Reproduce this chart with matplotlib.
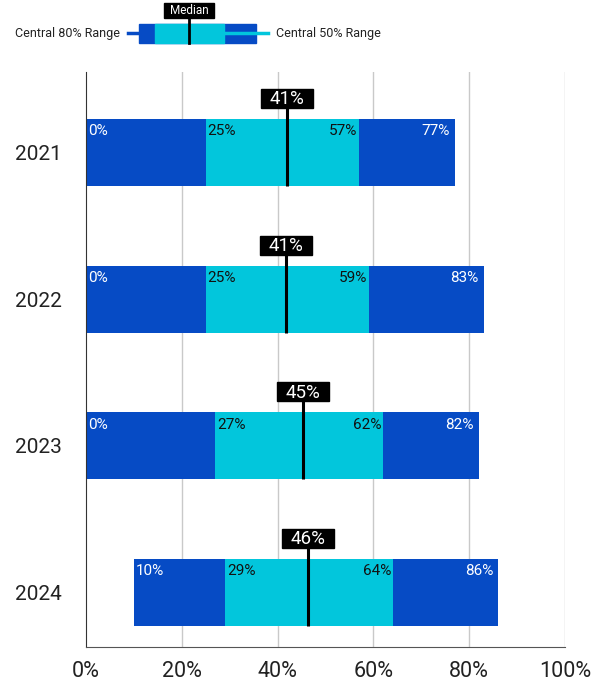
import matplotlib.pyplot as plt
from matplotlib.patches import Rectangle

plt.rcParams["font.family"] = ["Roboto", "DejaVu Sans"]

# Data (percent)
YEARS = ["2021", "2022", "2023", "2024"]
P10 = [0, 0, 0, 10]
P25 = [25, 25, 27, 29]
MEDIAN = [41.9, 41.8, 45.3, 46.4]
P75 = [57, 59, 62, 64]
P90 = [77, 83, 82, 86]
X_TICKS = [0, 20, 40, 60, 80, 100]

DARK = "#064BC5"
CYAN = "#02C6DC"

BAR_H = 0.457
BOX_W = 10.9   # median label box width, in percent units
BOX_H = 0.13


def main():
    fig = plt.figure(figsize=(6.11, 6.84), dpi=100)
    ax = fig.add_axes([86 / 611, 1 - 647 / 684, 479 / 611, 575 / 684])

    for i, year in enumerate(YEARS):
        lo, q1, med, q3, hi = P10[i], P25[i], MEDIAN[i], P75[i], P90[i]
        ax.barh(i, hi - lo, left=lo, height=BAR_H, color=DARK, zorder=2)
        ax.barh(i, q3 - q1, left=q1, height=BAR_H, color=CYAN, zorder=3)

        top = i - BAR_H / 2
        box_y = top - 0.075 - BOX_H / 2
        ax.plot([med, med], [i + BAR_H / 2, box_y], color="black",
                lw=2.2, solid_capstyle="butt", zorder=5)
        ax.add_patch(Rectangle((med - BOX_W / 2, box_y - BOX_H / 2), BOX_W,
                               BOX_H, color="black", zorder=5))
        ax.text(med, box_y + 0.005, f"{int(med)}%", ha="center", va="center",
                color="white", fontsize=13.5, zorder=6)

        ty = top + 0.035
        fs = 11
        ax.text(lo + 0.4, ty, f"{lo}%", ha="left", va="top", color="white",
                fontsize=fs, zorder=6)
        ax.text(q1 + 0.4, ty, f"{q1}%", ha="left", va="top", color="#111111",
                fontsize=fs, zorder=6)
        ax.text(q3 - 0.3, ty, f"{q3}%", ha="right", va="top", color="#111111",
                fontsize=fs, zorder=6)
        ax.text(hi - 1.0, ty, f"{hi}%", ha="right", va="top", color="white",
                fontsize=fs, zorder=6)

    ax.set_xlim(0, 100)
    ax.set_ylim(3.371, -0.549)
    ax.set_xticks(X_TICKS)
    ax.set_xticklabels([f"{t}%" for t in X_TICKS], fontsize=15.5, color="#222222")
    ax.set_yticks(range(len(YEARS)))
    ax.set_yticklabels(YEARS, fontsize=15, color="#222222", ha="left")
    ax.tick_params(axis="y", length=0, pad=51)
    ax.tick_params(axis="x", length=0, pad=10)
    for t in X_TICKS[1:]:
        ax.axvline(t, color="#c9c9c9", lw=1, zorder=1)
    ax.spines["top"].set_visible(False)
    ax.spines["right"].set_visible(False)
    ax.spines["left"].set_color("#333333")
    ax.spines["bottom"].set_color("#555555")

    # Legend drawn in pixel coordinates
    lg = fig.add_axes([0, 0, 1, 1], zorder=10)
    lg.set_xlim(0, 611)
    lg.set_ylim(684, 0)
    lg.axis("off")
    lg.text(15, 33, "Central 80% Range", ha="left", va="center", fontsize=9,
            color="#222222")
    lg.plot([128, 140], [33, 33], color=DARK, lw=2.5)
    lg.add_patch(Rectangle((139, 24), 117, 19, color=DARK))
    lg.add_patch(Rectangle((155, 24), 69, 19, color=CYAN))
    lg.plot([224, 268], [33, 33], color=CYAN, lw=2.5)
    lg.plot([189, 189], [43, 14], color="black", lw=2)
    lg.add_patch(Rectangle((164, 3), 50, 15, color="black"))
    lg.text(189, 10.5, "Median", ha="center", va="center", color="white",
            fontsize=8.5)
    lg.text(276, 33, "Central 50% Range", ha="left", va="center", fontsize=9,
            color="#222222")

    fig.savefig("out.png", dpi=100)


if __name__ == "__main__":
    main()
